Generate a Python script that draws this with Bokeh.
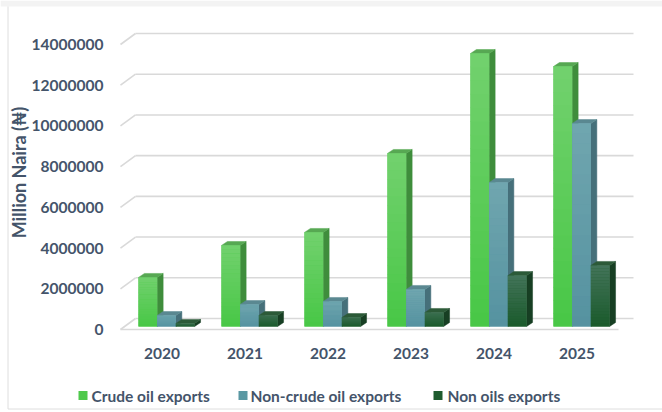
import math
from bokeh.plotting import figure
from bokeh.models import Range1d
from bokeh.core.properties import value
from bokeh.embed import file_html
from bokeh.resources import INLINE

# ---------------- data ----------------
years = ["2020", "2021", "2022", "2023", "2024", "2025"]
crude = [2410000, 3980000, 4620000, 8500000, 13410000, 12770000]
noncrude = [540000, 1080000, 1230000, 1820000, 7070000, 9970000]
nonoil = [150000, 540000, 440000, 690000, 2500000, 3000000]
series_names = ["Crude oil exports", "Non-crude oil exports", "Non oils exports"]
y_ticks = [0, 2000000, 4000000, 6000000, 8000000, 10000000, 12000000, 14000000]
y_title = "Million Naira (₦)"

# ---------------- styling / geometry (pixels of the 662x412 canvas) ----------------
W, H = 662, 412
X0 = 120.0                  # pixel column of the front plane's left edge
PX_X = 83.0                 # px per category on the front plane
K = 285.0 / 14e6            # px per value unit
Y0 = 329.0                  # pixel row of value 0 on the front plane


def dx(px):
    return (px - X0) / PX_X


def dy(py):
    return (Y0 - py) / K


WALL_DX, WALL_DY = 15 / PX_X, 11 / K        # depth of floor / side wall
OX, OY = 4.5 / PX_X, 3 / K                  # bar front plane offset
BX, BY = 6 / PX_X, 4 / K                    # bar depth
BW = 18.7 / PX_X                            # bar width

TXT = "#44546a"
FONT = value("Lato")
FS = value("15.5px")
GRID = "#d9d9d9"

front_top = ["#72d16e", "#70a6af", "#43745a"]
front_bot = ["#48c746", "#5592a0", "#1a5a2b"]
legend_col = ["#4fc94c", "#5a98a3", "#1e5b2e"]
side_col = ["#3f8d3c", "#46707a", "#173f23"]
top_col = ["#57a853", "#5a8891", "#2c5a38"]


def mix(c1, c2, t):
    a = [int(c1[i:i + 2], 16) for i in (1, 3, 5)]
    b = [int(c2[i:i + 2], 16) for i in (1, 3, 5)]
    return "#%02x%02x%02x" % tuple(int(round(a[j] + (b[j] - a[j]) * t)) for j in range(3))


p = figure(width=W, height=H, output_backend="svg", toolbar_location=None,
           x_range=Range1d(dx(0), dx(W)), y_range=Range1d(dy(H), dy(0)),
           x_axis_location=None, y_axis_location=None, min_border=0)
p.xgrid.visible = False
p.ygrid.visible = False
p.outline_line_color = None
p.background_fill_color = "white"
p.border_fill_color = "white"

# ---------------- outer chart border ----------------
p.quad(left=[dx(0)], right=[dx(W)], bottom=[dy(6)], top=[dy(0)],
       fill_color="#f3f3f3", line_color=None)
p.segment([dx(7.5), dx(7.5)], [dy(6), dy(408.5)], [dx(7.5), dx(W)], [dy(408.5), dy(408.5)],
          line_color="#dedede", line_width=1)

# ---------------- walls / gridlines ----------------
ncat = len(years)
gx0, gx1, gy0, gy1 = [], [], [], []
for v in y_ticks:
    gx0 += [WALL_DX, 0]
    gx1 += [ncat + WALL_DX, WALL_DX]
    gy0 += [v + WALL_DY, v]
    gy1 += [v + WALL_DY, v + WALL_DY]
p.segment(gx0, gy0, gx1, gy1, line_color=GRID, line_width=1.6)
p.segment([0], [0], [ncat], [0], line_color=GRID, line_width=1.6)

# ---------------- 3D bars ----------------
all_series = [crude, noncrude, nonoil]
NSL = 20
for s, vals in enumerate(all_series):
    lefts = [i + 0.5 + OX + (s - 1.5) * BW for i in range(ncat)]
    rights = [l + BW for l in lefts]
    sx, sy, tx, ty = [], [], [], []
    for l, r, v in zip(lefts, rights, vals):
        sx.append([r, r + BX, r + BX, r])
        sy.append([OY, OY + BY, OY + v + BY, OY + v])
        tx.append([l, l + BX, r + BX, r])
        ty.append([OY + v, OY + v + BY, OY + v + BY, OY + v])
    p.patches(sx, sy, fill_color=side_col[s], line_color=side_col[s], line_width=0.5)
    p.patches(tx, ty, fill_color=top_col[s], line_color=top_col[s], line_width=0.5)
    p.quad(left=lefts, right=rights, bottom=[OY] * ncat, top=[OY + v for v in vals],
           fill_color=legend_col[s], line_color=None)
    ql, qr, qb, qt, qc = [], [], [], [], []
    for l, r, v in zip(lefts, rights, vals):
        for j in range(NSL):
            ql.append(l)
            qr.append(r)
            qb.append(OY + v * j / NSL)
            qt.append(OY + v * (j + 1) / NSL + (v / NSL * 0.05 if j < NSL - 1 else 0))
            qc.append(mix(front_bot[s], front_top[s], (j + 0.5) / NSL))
    p.quad(left=ql, right=qr, bottom=qb, top=qt, fill_color=qc, line_color=None)

# ---------------- axis texts ----------------
p.text(x=[dx(103)] * len(y_ticks), y=y_ticks, text=[str(v) for v in y_ticks],
       text_align="right", text_baseline="middle", text_font=FONT,
       text_font_style="bold", text_font_size=FS, text_color=TXT)
p.text(x=[i + 0.5 for i in range(ncat)], y=[dy(353)] * ncat, text=years,
       text_align="center", text_baseline="middle", text_font=FONT,
       text_font_style="bold", text_font_size=FS, text_color=TXT)
p.text(x=[dx(18)], y=[dy(172)], text=[y_title], angle=math.pi / 2,
       text_align="center", text_baseline="middle", text_font=FONT,
       text_font_style="bold", text_font_size=value("18px"), text_color=TXT)

# ---------------- legend ----------------
leg_sq = [82.5, 242.5, 437.5]
leg_tx = [91, 250, 447]
p.scatter(x=[dx(v) for v in leg_sq], y=[dy(395)] * 3, marker="square", size=9,
          fill_color=legend_col, line_color=None)
p.text(x=[dx(v) for v in leg_tx], y=[dy(395)] * 3, text=series_names,
       text_align="left", text_baseline="middle", text_font=FONT,
       text_font_style="bold", text_font_size=FS, text_color=TXT)

open("out.html", "w").write(file_html(p, INLINE))
